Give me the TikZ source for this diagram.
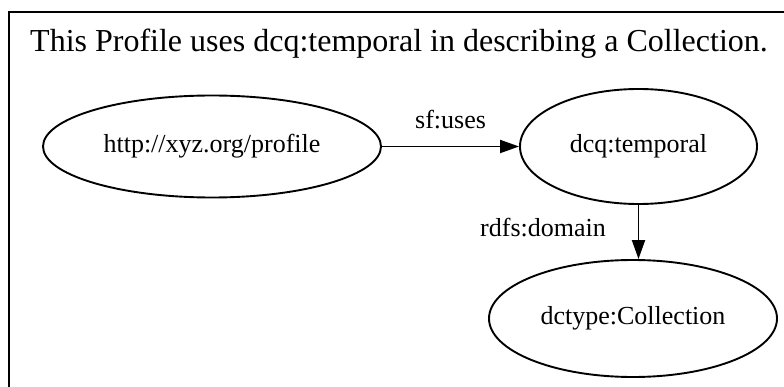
\documentclass[tikz,border=0pt]{standalone}
\usepackage{fontspec}
\setmainfont{Liberation Serif}
\usetikzlibrary{shapes.geometric,arrows.meta}

\tikzset{
  term/.style={draw, ellipse, line width=1.9pt, inner sep=0pt,
    font=\fontsize{26}{30}\selectfont},
  edge/.style={line width=1.9pt, -{Triangle[length=19pt,width=13pt]}},
  elabel/.style={inner sep=0pt, anchor=base west, font=\fontsize{26}{30}\selectfont},
}

\begin{document}
\begin{tikzpicture}[x=1pt, y=-1pt]
  \useasboundingbox (0,0) rectangle (784,387);
  \clip (0,0) rectangle (784,387);

  % outer frame (continues past the right and bottom edges)
  \coordinate (fbl) at (9,400);
  \coordinate (ftl) at (9,12);
  \coordinate (ftr) at (800,12);
  \draw[line width=1.9pt] (fbl) -- (ftl) -- (ftr);

  % caption
  \node[inner sep=0pt, anchor=base west, font=\fontsize{32}{36}\selectfont]
    (title) at (30,52) {This Profile uses dcq:temporal in describing a Collection.};

  % resources
  \node[term, minimum width=338pt, minimum height=102pt] (profile) at (212,146.5) {http://xyz.org/profile};
  \node[term, minimum width=237pt, minimum height=115pt] (temporal) at (638.5,146.5) {dcq:temporal};
  \node[term, minimum width=288pt, minimum height=117pt] (collection) at (633,318.5) {dctype:Collection};

  % relations
  \draw[edge] (profile) -- (temporal);
  \draw[edge] (temporal.south) -- (collection.north -| temporal.south);

  % relation labels
  \node[elabel] (uses) at (415,129) {sf:uses};
  \node[elabel] (domain) at (480,237) {rdfs:domain};
\end{tikzpicture}
\end{document}
